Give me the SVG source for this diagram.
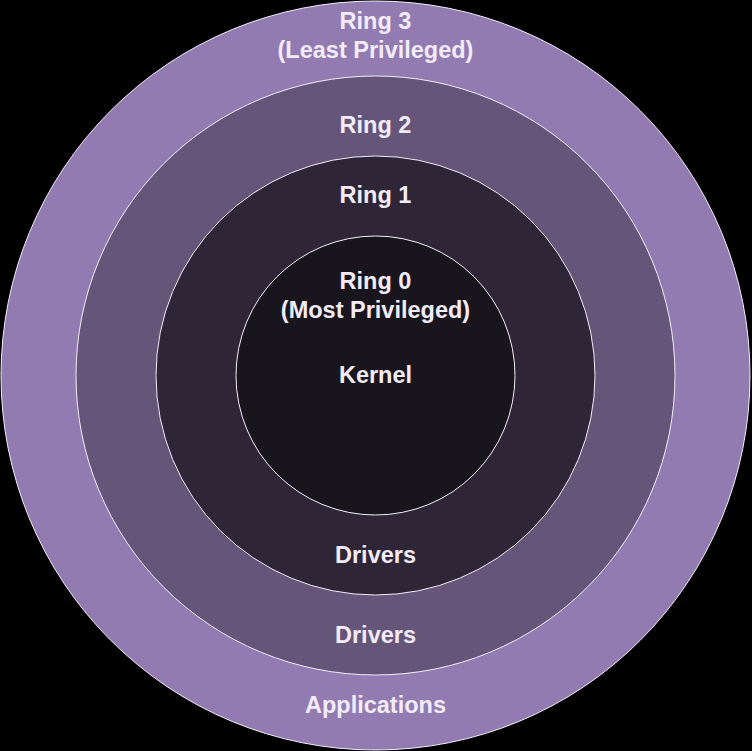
<svg xmlns="http://www.w3.org/2000/svg" width="752" height="751" viewBox="0 0 752 751">
<style>
.ring{stroke:#f4eefa;stroke-width:1}
.lbl{font-family:"Liberation Sans",Arial,sans-serif;font-weight:bold;font-size:23.5px;fill:#f3ecf8;text-anchor:middle}
</style>
<rect x="0" y="0" width="752" height="751" fill="#000000"/>
<g id="ring3">
<circle class="ring" cx="375.5" cy="375.5" r="374.5" fill="#917bb1"/>
<text class="lbl" x="375.5" y="29">Ring 3</text>
<text class="lbl" x="375.5" y="58">(Least Privileged)</text>
<text class="lbl" x="375.5" y="713">Applications</text>
</g>
<g id="ring2">
<circle class="ring" cx="375.5" cy="375.5" r="299.5" fill="#645579"/>
<text class="lbl" x="375.5" y="133">Ring 2</text>
<text class="lbl" x="375.5" y="643">Drivers</text>
</g>
<g id="ring1">
<circle class="ring" cx="375.5" cy="375.5" r="219.5" fill="#2e2636"/>
<text class="lbl" x="375.5" y="203">Ring 1</text>
<text class="lbl" x="375.5" y="563">Drivers</text>
</g>
<g id="ring0">
<circle class="ring" cx="375.5" cy="375.5" r="139.5" fill="#19151d"/>
<text class="lbl" x="375.5" y="289">Ring 0</text>
<text class="lbl" x="375.5" y="318">(Most Privileged)</text>
<text class="lbl" x="375.5" y="383">Kernel</text>
</g>
<g id="connectors"/>
</svg>
